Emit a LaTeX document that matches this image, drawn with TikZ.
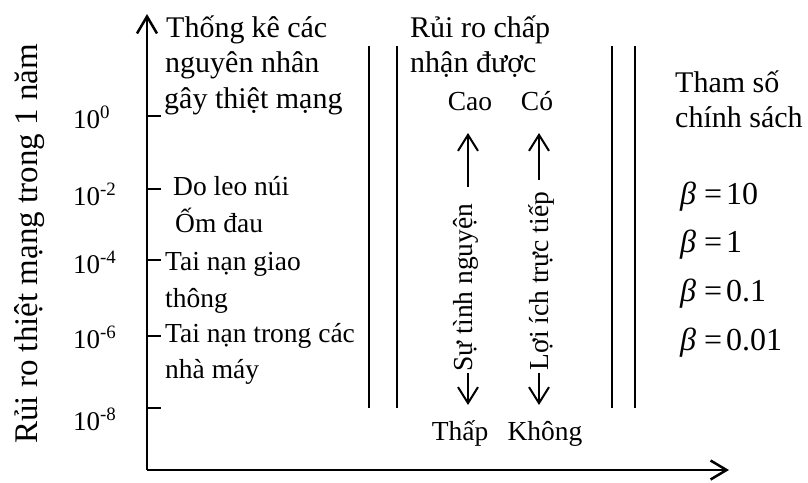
\documentclass[tikz,border=0pt]{standalone}
\usepackage{fontspec}
\setmainfont{Liberation Serif}
\usetikzlibrary{arrows.meta}
\def\bt{\textit{β}\hspace{0.25em}=\hspace{0.12em}}

\begin{document}
\begin{tikzpicture}[x=1pt,y=-1pt,
    every node/.style={inner sep=0pt,anchor=base west},
    head/.style={font=\fontsize{30}{36}\selectfont},
    cause/.style={font=\fontsize{27.5}{33}\selectfont},
    lbl/.style={font=\fontsize{27.5}{33}\selectfont,anchor=base},
    beta/.style={font=\fontsize{32}{38}\selectfont},
    barb/.style={-{Straight Barb[length=16pt,width=20pt]},line width=2pt}]
        \useasboundingbox (0,0) rectangle (808,482);
        \coordinate (O) at (147,470);
        \coordinate (ytop) at (147,14);
        \coordinate (xend) at (729,470);
        \draw[line width=2.5pt,-{Straight Barb[length=17pt,width=20pt]}] (O) -- (ytop);
        \draw[line width=2.5pt,-{Straight Barb[length=16pt,width=19pt]}] (O) -- (xend);
        \node[font=\fontsize{33}{40}\selectfont,rotate=90,anchor=base] (ylab) at (37,244) {Rủi ro thiệt mạng trong 1 năm};
        \foreach \Tick/\Base/\Exp in {116/128/0, 189/205/-2, 260/273/-4, 336/348/-6, 408/430/-8}
        {
            \draw[line width=2pt] (147,\Tick) -- (161,\Tick);
            \node[font=\fontsize{27}{32}\selectfont] (e\Exp) at (73,\Base) {10\textsuperscript{\Exp}};
        }
        \foreach \X [count=\i] in {369,397,612,635}
        \draw[line width=2pt] (\X,46) coordinate (vt\i) -- (\X,408) coordinate (vb\i);
        % causes of death
        \node[head] (c1) at (166,37) {\makebox[161pt][s]{Thống kê các}};
        \node[head] (c2) at (165,72) {nguyên nhân};
        \node[head] (c3) at (164,108) {gây thiệt mạng};
        \foreach \Cause/\X/\Y [count=\i] in {Do leo núi/173/195, Ốm đau/175/232, Tai nạn giao/165/270, thông/165/307, Tai nạn trong các/165/342, nhà máy/165/378}
        \node[cause] (d\i) at (\X,\Y) {\Cause};
        % acceptable risk
        \node[head] (r1) at (410,37) {Rủi ro chấp};
        \node[head] (r2) at (410,72) {nhận được};
        \node[lbl] (cao) at (470,110) {Cao};
        \node[lbl] (co) at (537,110) {Có};
        \node[lbl] (thap) at (460,440) {Thấp};
        \node[lbl] (khong) at (545,440) {Không};
        \node[lbl,rotate=90] (vol) at (472,287.5) {Sự tình nguyện};
        \node[lbl,rotate=90] (ben) at (548,281) {Lợi ích trực tiếp};
        \coordinate (volup) at (468,187);
        \coordinate (voltip) at (468,133);
        \coordinate (voldn) at (468,373);
        \coordinate (volbot) at (468,405);
        \coordinate (benup) at (539,180);
        \coordinate (bentip) at (539,133);
        \coordinate (bendn) at (539,373);
        \coordinate (benbot) at (539,405);
        \draw[barb] (volup) -- (voltip);
        \draw[barb] (voldn) -- (volbot);
        \draw[barb] (benup) -- (bentip);
        \draw[barb] (bendn) -- (benbot);
        % policy factor
        \node[head] (p1) at (675,92) {Tham số};
        \node[head] (p2) at (675,127) {chính sách};
        \foreach \B/\Y [count=\i] in {10/204, 1/252, 0.1/301, 0.01/350}
        \node[beta] (b\i) at (680,\Y) {\bt\B};
\end{tikzpicture}
\end{document}
